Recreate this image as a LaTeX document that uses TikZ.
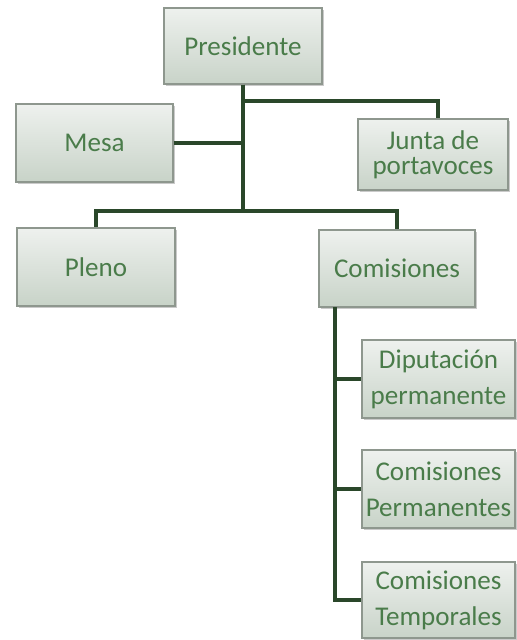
\documentclass[tikz,border=0pt]{standalone}
\usepackage{fontspec}
\setmainfont{Carlito}
\usetikzlibrary{shadows}
\definecolor{txtgreen}{HTML}{4A7C4A}
\definecolor{linegreen}{HTML}{2A472A}
\definecolor{boxtop}{HTML}{EEF1EE}
\definecolor{boxbot}{HTML}{C8D3C8}
\definecolor{boxedge}{HTML}{8E978E}
\tikzset{
  box/.style={draw=boxedge, line width=0.8pt, top color=boxtop, bottom color=boxbot,
    text=txtgreen, align=center, inner sep=2pt,
    font=\fontsize{20.3}{27}\selectfont,
    drop shadow={shadow xshift=1.5pt, shadow yshift=-1.5pt, opacity=0.35, fill=black!60}},
  conn/.style={draw=linegreen, line width=3pt}
}
\begin{document}
\begin{tikzpicture}[x=0.75pt, y=-0.75pt]
\useasboundingbox (0,0) rectangle (517,640);
\node[box, minimum width=118.5pt, minimum height=57pt] (pres) at (243,46) {Presidente};
\node[box, minimum width=117.75pt, minimum height=58.5pt] (mesa) at (94.5,143) {Mesa};
\node[box, minimum width=112.5pt, minimum height=53.25pt, font=\fontsize{20.3}{18.5}\selectfont] (junta) at (433,154.5) {Junta de\\portavoces};
\node[box, minimum width=118.5pt, minimum height=58.5pt] (pleno) at (96,267) {Pleno};
\node[box, minimum width=117pt, minimum height=57.75pt] (com) at (397,268.5) {Comisiones};
\node[box, minimum width=114.75pt, minimum height=58.5pt] (dip) at (438.5,379) {Diputación\\permanente};
\node[box, minimum width=114.75pt, minimum height=58.5pt] (perm) at (438.5,489) {Comisiones\\Permanentes};
\node[box, minimum width=114.75pt, minimum height=57pt] (temp) at (438.5,600) {Comisiones\\Temporales};
\coordinate (j1) at (243,101);
\coordinate (b) at (243,211);
\coordinate (c0) at (335,307);
\draw[conn] (pres.south) -- (pres.south |- j1) -| ([xshift=3.75pt]junta.north);
\draw[conn] (pres.south) -- (b);
\draw[conn] (mesa.east) -- (mesa.east -| b);
\draw[conn] (b) -| (pleno.north);
\draw[conn] (b) -| (com.north);
\draw[conn] (c0) |- (temp.west);
\draw[conn] (c0 |- dip.west) -- (dip.west);
\draw[conn] (c0 |- perm.west) -- (perm.west);
\end{tikzpicture}
\end{document}
